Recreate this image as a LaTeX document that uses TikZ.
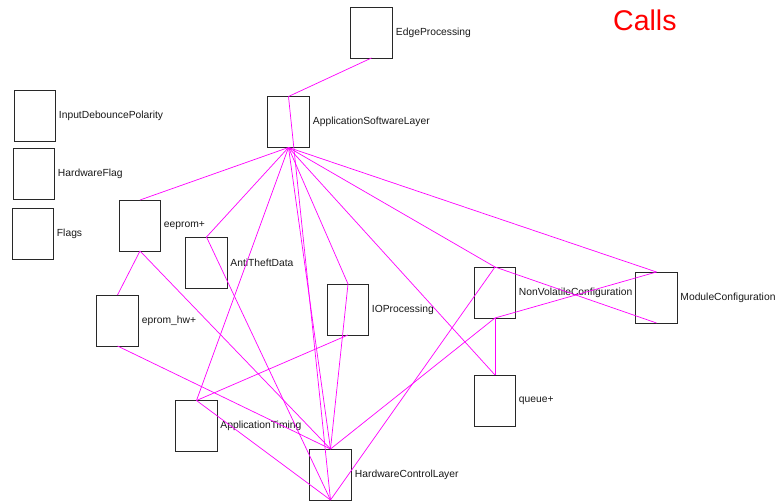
\documentclass[tikz,border=0pt]{standalone}
\usepackage{fontspec}
\setmainfont{Liberation Sans}
\definecolor{callline}{RGB}{255,0,255}
\definecolor{boxline}{RGB}{40,40,40}
\definecolor{titlered}{RGB}{255,0,0}
\begin{document}
\begin{tikzpicture}[x=1pt,y=-1pt,
  modbox/.style={draw=boxline,line width=0.8pt,rectangle,minimum width=41.5pt,minimum height=51pt,inner sep=0pt,outer sep=0pt},
  modlabel/.style={anchor=west,inner sep=0pt,font=\fontsize{10.3}{12}\selectfont,text=black!90},
  call/.style={draw=callline,line width=0.7pt}]
\useasboundingbox (0,0) rectangle (777,502);
\fill[white] (0,0) rectangle (777,502);

% modules
\node[modbox] (ep)   at (371.5,32.5) {};
\node[modbox] (asl)  at (288.5,122)  {};
\node[modbox] (idp)  at (35,115.5)   {};
\node[modbox] (hf)   at (34,173.5)   {};
\node[modbox] (flg)  at (33,233.5)   {};
\node[modbox] (eep)  at (140,225.5)  {};
\node[modbox] (atd)  at (206.5,262.5) {};
\node[modbox] (ehw)  at (117.5,320.5) {};
\node[modbox] (iop)  at (348,309.5)  {};
\node[modbox] (nvc)  at (495,292.5)  {};
\node[modbox] (mc)   at (656.5,297.5) {};
\node[modbox] (que)  at (495,400.5)  {};
\node[modbox] (at)   at (196.5,426)  {};
\node[modbox] (hcl)  at (330.5,474.5) {};

% module names
\node[modlabel] (ep-l)  at ([xshift=3.5pt]ep.east)  {EdgeProcessing};
\node[modlabel] (asl-l) at ([xshift=3.5pt]asl.east) {ApplicationSoftwareLayer};
\node[modlabel] (idp-l) at ([xshift=3pt]idp.east)   {InputDebouncePolarity};
\node[modlabel] (hf-l)  at ([xshift=3pt]hf.east)    {HardwareFlag};
\node[modlabel] (flg-l) at ([xshift=3pt]flg.east)   {Flags};
\node[modlabel] (eep-l) at ([xshift=3pt]eep.east)   {eeprom+};
\node[modlabel] (atd-l) at ([xshift=3pt]atd.east)   {AntiTheftData};
\node[modlabel] (ehw-l) at ([xshift=3.5pt]ehw.east) {eprom\_hw+};
\node[modlabel] (iop-l) at ([xshift=3pt]iop.east)   {IOProcessing};
\node[modlabel] (nvc-l) at ([xshift=3pt]nvc.east)   {NonVolatileConfiguration};
\node[modlabel] (mc-l)  at ([xshift=3pt]mc.east)    {ModuleConfiguration};
\node[modlabel] (que-l) at ([xshift=3pt]que.east)   {queue+};
\node[modlabel] (at-l)  at ([xshift=3pt]at.east)    {ApplicationTiming};
\node[modlabel] (hcl-l) at ([xshift=3.5pt]hcl.east) {HardwareControlLayer};

% title
\node[anchor=base west,inner sep=0pt,text=titlered,font=\fontsize{28.5}{32}\selectfont] (title) at (613,30.5) {Calls};

% call relations
\draw[call] (ep.south)  -- (asl.north);
\draw[call] (asl.south) -- (eep.north);
\draw[call] (asl.south) -- (atd.north);
\draw[call] (asl.south) -- (at.north);
\draw[call] (asl.south) -- (hcl.north);
\draw[call] (asl.south) -- (iop.north);
\draw[call] (asl.south) -- (que.north);
\draw[call] (asl.south) -- (nvc.north);
\draw[call] (asl.south) -- (mc.north);
\draw[call] (asl.north) -- (hcl.south);
\draw[call] (eep.south) -- (ehw.north);
\draw[call] (eep.south) -- (hcl.north);
\draw[call] (ehw.south) -- (hcl.north);
\draw[call] (atd.north) -- (hcl.south);
\draw[call] (iop.north) -- (hcl.north);
\draw[call] (iop.south) -- (at.north);
\draw[call] (at.north)  -- (hcl.south);
\draw[call] (nvc.north) -- (hcl.south);
\draw[call] (nvc.south) -- (hcl.north);
\draw[call] (nvc.south) -- (que.north);
\draw[call] (nvc.south) -- (mc.north);
\draw[call] (mc.south)  -- (nvc.north);
\end{tikzpicture}
\end{document}
